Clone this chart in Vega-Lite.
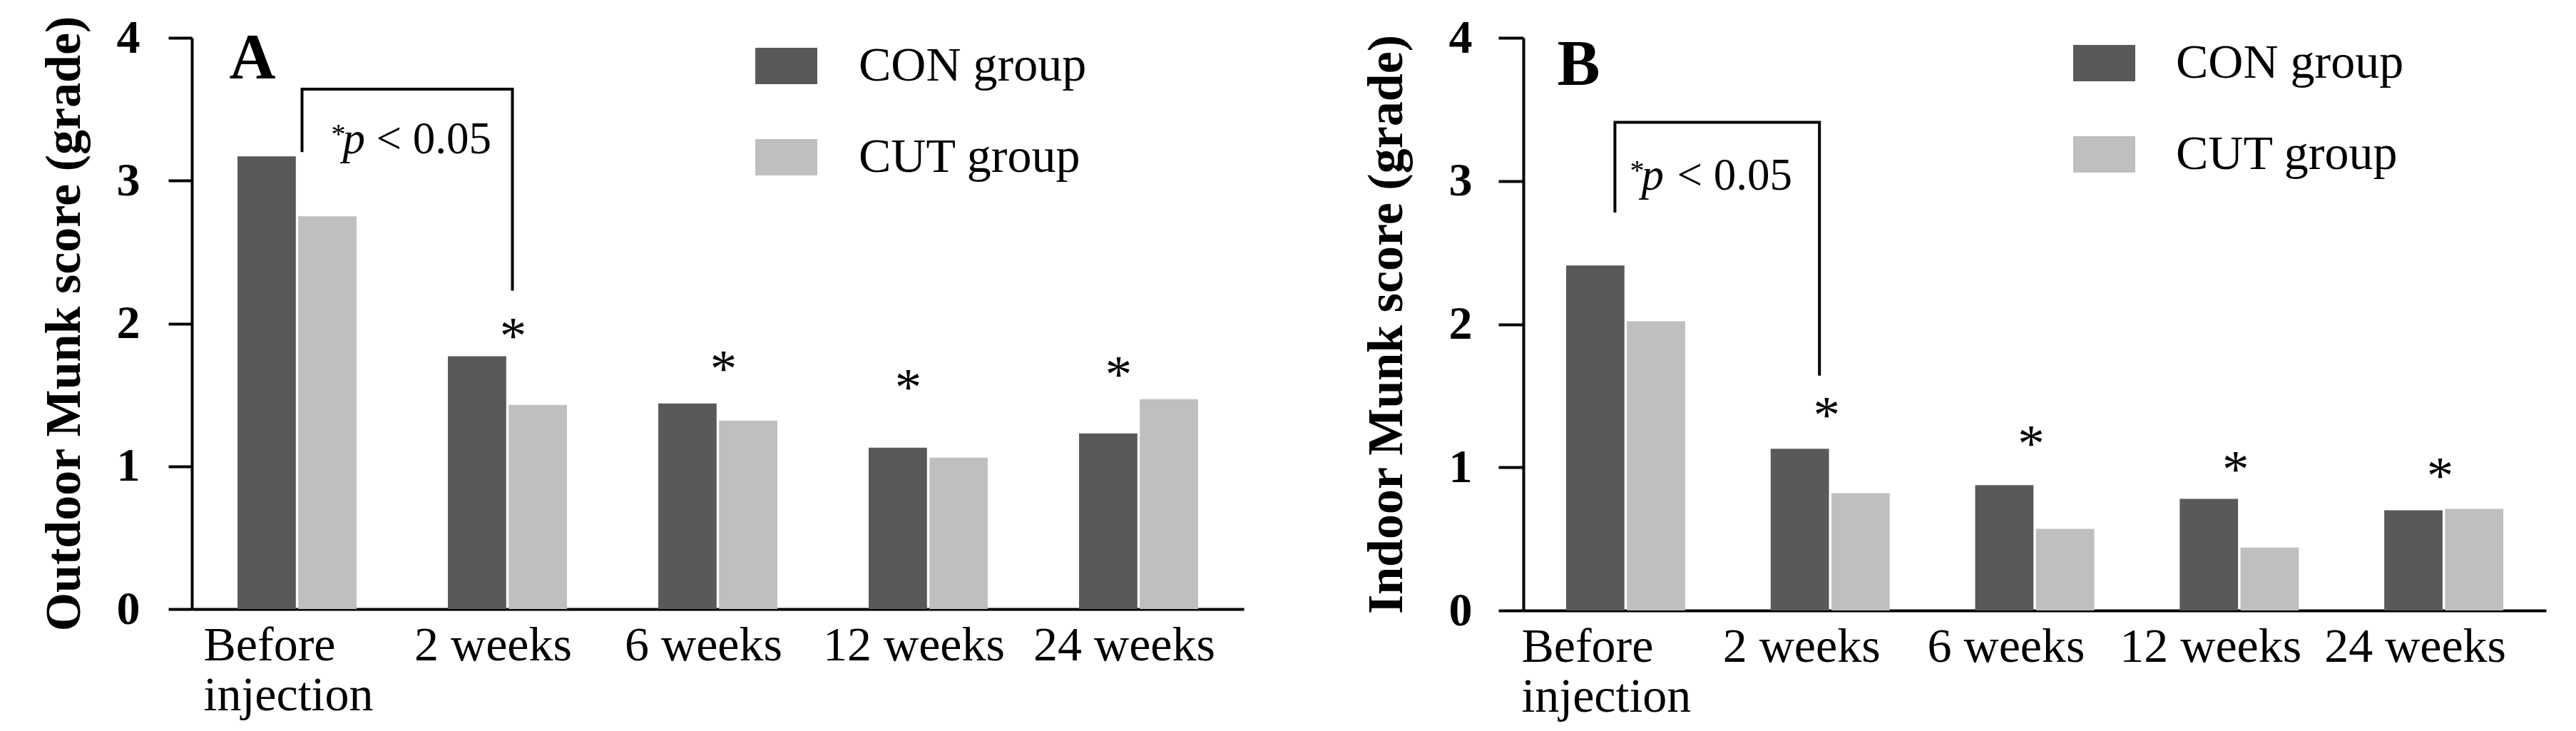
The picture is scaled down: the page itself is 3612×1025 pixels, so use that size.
{
  "$schema": "https://vega.github.io/schema/vega-lite/v6.json",
  "padding": {"left": 55, "top": 20, "right": 20, "bottom": 5},
  "background": "white",
  "bounds": "flush",
  "spacing": 392,
  "config": {
    "view": {"stroke": null},
    "font": "Liberation Serif",
    "axis": {"labelColor": "black", "titleColor": "black", "domainColor": "black", "tickColor": "black", "grid": false}
  },
  "resolve": {"legend": {"color": "independent"}},
  "datasets": {
    "outdoor": [
      {"time": "Before injection", "group": "CON group", "score": 3.17},
      {"time": "Before injection", "group": "CUT group", "score": 2.75},
      {"time": "2 weeks", "group": "CON group", "score": 1.77},
      {"time": "2 weeks", "group": "CUT group", "score": 1.43},
      {"time": "6 weeks", "group": "CON group", "score": 1.44},
      {"time": "6 weeks", "group": "CUT group", "score": 1.32},
      {"time": "12 weeks", "group": "CON group", "score": 1.13},
      {"time": "12 weeks", "group": "CUT group", "score": 1.06},
      {"time": "24 weeks", "group": "CON group", "score": 1.23},
      {"time": "24 weeks", "group": "CUT group", "score": 1.47}
    ],
    "indoor": [
      {"time": "Before injection", "group": "CON group", "score": 2.41},
      {"time": "Before injection", "group": "CUT group", "score": 2.02},
      {"time": "2 weeks", "group": "CON group", "score": 1.13},
      {"time": "2 weeks", "group": "CUT group", "score": 0.82},
      {"time": "6 weeks", "group": "CON group", "score": 0.875},
      {"time": "6 weeks", "group": "CUT group", "score": 0.57},
      {"time": "12 weeks", "group": "CON group", "score": 0.78},
      {"time": "12 weeks", "group": "CUT group", "score": 0.44},
      {"time": "24 weeks", "group": "CON group", "score": 0.70},
      {"time": "24 weeks", "group": "CUT group", "score": 0.71}
    ],
    "stars_outdoor_mid": [
      {"time": "2 weeks", "y": 1.79},
      {"time": "6 weeks", "y": 1.56}
    ],
    "stars_outdoor_left": [
      {"time": "12 weeks", "y": 1.43},
      {"time": "24 weeks", "y": 1.52}
    ],
    "stars_indoor": [
      {"time": "2 weeks", "y": 1.24},
      {"time": "6 weeks", "y": 1.04},
      {"time": "12 weeks", "y": 0.86},
      {"time": "24 weeks", "y": 0.815}
    ],
    "bracket_outdoor": [
      {"time": "Before injection", "y": 3.21, "order": 1},
      {"time": "Before injection", "y": 3.64, "order": 2},
      {"time": "2 weeks", "y": 3.64, "order": 3},
      {"time": "2 weeks", "y": 2.24, "order": 4}
    ],
    "bracket_indoor": [
      {"time": "Before injection", "y": 2.79, "order": 1},
      {"time": "Before injection", "y": 3.41, "order": 2},
      {"time": "2 weeks", "y": 3.41, "order": 3},
      {"time": "2 weeks", "y": 1.65, "order": 4}
    ],
    "notes_outdoor": [
      {"time": "Before injection", "y": 3.19, "letter": "A", "ly": 3.715}
    ],
    "notes_indoor": [
      {"time": "Before injection", "y": 2.94, "letter": "B", "ly": 3.67}
    ]
  },
  "hconcat": [
    {
      "width": 1475,
      "height": 801,
      "encoding": {
        "x": {
          "field": "time", "type": "nominal",
          "sort": ["Before injection", "2 weeks", "6 weeks", "12 weeks", "24 weeks"],
          "scale": {"paddingInner": 0.434, "paddingOuter": 0.217},
          "axis": {
            "title": null, "ticks": false, "domainWidth": 4, "labelAngle": 0, "labelLimit": 0,
            "labelFont": "Liberation Serif", "labelFontSize": 68, "labelPadding": 17, "labelLineHeight": 70,
            "labelBaseline": "top",
            "labelExpr": "datum.value == 'Before injection' ? ['Before', 'injection'] : datum.value",
            "labelAlign": {"condition": {"test": "datum.value == 'Before injection'", "value": "left"}, "value": "center"},
            "labelOffset": {"condition": {"test": "datum.value == 'Before injection'", "value": -131}, "value": -20}
          }
        }
      },
      "layer": [
        {
          "data": {"name": "outdoor"},
          "mark": {"type": "bar"},
          "encoding": {
            "xOffset": {"field": "group", "type": "nominal", "scale": {"paddingInner": 0.04}},
            "y": {
              "field": "score", "type": "quantitative",
              "scale": {"domain": [0, 4], "nice": false},
              "axis": {
                "title": "Outdoor Munk score (grade)", "values": [0, 1, 2, 3, 4], "format": "d",
                "titleFont": "Liberation Serif", "titleFontSize": 70, "titleFontWeight": "bold", "titlePadding": 37,
                "labelFont": "Liberation Serif", "labelFontSize": 66, "labelFontWeight": "bold", "labelPadding": 40,
                "tickSize": 33, "tickWidth": 4, "domainWidth": 4
              }
            },
            "color": {
              "field": "group", "type": "nominal",
              "scale": {"domain": ["CON group", "CUT group"], "range": ["#595959", "#bfbfbf"]},
              "legend": {
                "title": null, "orient": "none", "legendX": 790, "legendY": -4, "padding": 0,
                "symbolType": "M-1,-0.586H1V0.586H-1Z", "symbolSize": 7569, "symbolStrokeWidth": 0,
                "labelFont": "Liberation Serif", "labelFontSize": 68, "labelColor": "black", "labelOffset": 58, "rowPadding": 50,
                "labelLimit": 0,
                "encode": {"symbols": {"update": {"fill": {"signal": "datum.value === 'CON group' ? '#7f7f7f' : '#bfbfbf'"}, "opacity": {"value": 1}}}}
              }
            }
          }
        },
        {
          "data": {"name": "stars_outdoor_mid"},
          "mark": {"type": "text", "text": "*", "fontSize": 75, "font": "Liberation Serif", "baseline": "alphabetic", "dx": 8, "color": "black"},
          "encoding": {"y": {"field": "y", "type": "quantitative"}}
        },
        {
          "data": {"name": "stars_outdoor_left"},
          "mark": {"type": "text", "text": "*", "fontSize": 75, "font": "Liberation Serif", "baseline": "alphabetic", "dx": -28, "color": "black"},
          "encoding": {"y": {"field": "y", "type": "quantitative"}}
        },
        {
          "data": {"name": "bracket_outdoor"},
          "mark": {"type": "line", "color": "black", "strokeWidth": 4, "xOffset": 7, "strokeCap": "square"},
          "encoding": {"y": {"field": "y", "type": "quantitative"}, "order": {"field": "order", "type": "quantitative"}}
        },
        {
          "data": {"name": "notes_outdoor"},
          "mark": {"type": "text", "text": "*", "fontSize": 40, "font": "Liberation Serif", "align": "left", "baseline": "alphabetic", "dx": 48, "dy": -14, "color": "black"},
          "encoding": {"y": {"field": "y", "type": "quantitative"}}
        },
        {
          "data": {"name": "notes_outdoor"},
          "mark": {"type": "text", "text": "p", "fontSize": 63, "fontStyle": "italic", "font": "Liberation Serif", "align": "left", "baseline": "alphabetic", "dx": 64, "color": "black"},
          "encoding": {"y": {"field": "y", "type": "quantitative"}}
        },
        {
          "data": {"name": "notes_outdoor"},
          "mark": {"type": "text", "text": "< 0.05", "fontSize": 63, "font": "Liberation Serif", "align": "left", "baseline": "alphabetic", "dx": 111, "color": "black"},
          "encoding": {"y": {"field": "y", "type": "quantitative"}}
        },
        {
          "data": {"name": "notes_outdoor"},
          "mark": {"type": "text", "fontSize": 90, "fontWeight": "bold", "font": "Liberation Serif", "align": "left", "baseline": "alphabetic", "dx": -95, "color": "black"},
          "encoding": {"y": {"field": "ly", "type": "quantitative"}, "text": {"field": "letter"}}
        }
      ]
    },
    {
      "width": 1434,
      "height": 803,
      "encoding": {
        "x": {
          "field": "time", "type": "nominal",
          "sort": ["Before injection", "2 weeks", "6 weeks", "12 weeks", "24 weeks"],
          "scale": {"paddingInner": 0.418, "paddingOuter": 0.209},
          "axis": {
            "title": null, "ticks": false, "domainWidth": 4, "labelAngle": 0, "labelLimit": 0,
            "labelFont": "Liberation Serif", "labelFontSize": 68, "labelPadding": 17, "labelLineHeight": 70,
            "labelBaseline": "top",
            "labelExpr": "datum.value == 'Before injection' ? ['Before', 'injection'] : datum.value",
            "labelAlign": {"condition": {"test": "datum.value == 'Before injection'", "value": "left"}, "value": "center"},
            "labelOffset": {"condition": {"test": "datum.value == 'Before injection'", "value": -146}, "value": -40}
          }
        }
      },
      "layer": [
        {
          "data": {"name": "indoor"},
          "mark": {"type": "bar"},
          "encoding": {
            "xOffset": {"field": "group", "type": "nominal", "scale": {"paddingInner": 0.04}},
            "y": {
              "field": "score", "type": "quantitative",
              "scale": {"domain": [0, 4], "nice": false},
              "axis": {
                "title": "Indoor Munk score (grade)", "values": [0, 1, 2, 3, 4], "format": "d",
                "titleFont": "Liberation Serif", "titleFontSize": 70, "titleFontWeight": "bold", "titlePadding": 51,
                "labelFont": "Liberation Serif", "labelFontSize": 66, "labelFontWeight": "bold", "labelPadding": 37,
                "tickSize": 35, "tickWidth": 4, "domainWidth": 4
              }
            },
            "color": {
              "field": "group", "type": "nominal",
              "scale": {"domain": ["CON group", "CUT group"], "range": ["#595959", "#bfbfbf"]},
              "legend": {
                "title": null, "orient": "none", "legendX": 771, "legendY": -8, "padding": 0,
                "symbolType": "M-1,-0.586H1V0.586H-1Z", "symbolSize": 7569, "symbolStrokeWidth": 0,
                "labelFont": "Liberation Serif", "labelFontSize": 68, "labelColor": "black", "labelOffset": 57, "rowPadding": 50,
                "labelLimit": 0,
                "encode": {"symbols": {"update": {"fill": {"signal": "datum.value === 'CON group' ? '#7f7f7f' : '#bfbfbf'"}, "opacity": {"value": 1}}}}
              }
            }
          }
        },
        {
          "data": {"name": "stars_indoor"},
          "mark": {"type": "text", "text": "*", "fontSize": 75, "font": "Liberation Serif", "baseline": "alphabetic", "dx": -5, "color": "black"},
          "encoding": {"y": {"field": "y", "type": "quantitative"}}
        },
        {
          "data": {"name": "bracket_indoor"},
          "mark": {"type": "line", "color": "black", "strokeWidth": 4, "xOffset": -15, "strokeCap": "square"},
          "encoding": {"y": {"field": "y", "type": "quantitative"}, "order": {"field": "order", "type": "quantitative"}}
        },
        {
          "data": {"name": "notes_indoor"},
          "mark": {"type": "text", "text": "*", "fontSize": 40, "font": "Liberation Serif", "align": "left", "baseline": "alphabetic", "dx": 6, "dy": -14, "color": "black"},
          "encoding": {"y": {"field": "y", "type": "quantitative"}}
        },
        {
          "data": {"name": "notes_indoor"},
          "mark": {"type": "text", "text": "p", "fontSize": 63, "fontStyle": "italic", "font": "Liberation Serif", "align": "left", "baseline": "alphabetic", "dx": 22, "color": "black"},
          "encoding": {"y": {"field": "y", "type": "quantitative"}}
        },
        {
          "data": {"name": "notes_indoor"},
          "mark": {"type": "text", "text": "< 0.05", "fontSize": 63, "font": "Liberation Serif", "align": "left", "baseline": "alphabetic", "dx": 72, "color": "black"},
          "encoding": {"y": {"field": "y", "type": "quantitative"}}
        },
        {
          "data": {"name": "notes_indoor"},
          "mark": {"type": "text", "fontSize": 90, "fontWeight": "bold", "font": "Liberation Serif", "align": "left", "baseline": "alphabetic", "dx": -96, "color": "black"},
          "encoding": {"y": {"field": "ly", "type": "quantitative"}, "text": {"field": "letter"}}
        }
      ]
    }
  ]
}
